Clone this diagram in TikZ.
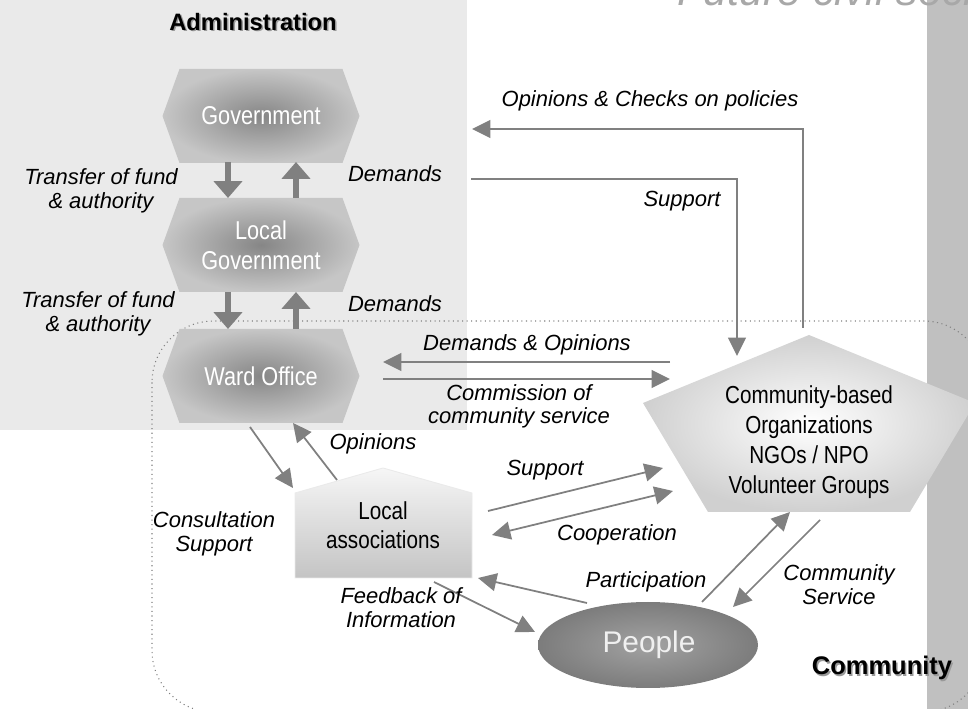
\documentclass[tikz,border=0pt]{standalone}
\usepackage{fontspec}
\setmainfont{Liberation Sans}
\newfontfamily\narrowfont[FakeStretch=0.84]{Liberation Sans}
\usetikzlibrary{arrows.meta}

\definecolor{adminbg}{HTML}{EAEAEA}
\definecolor{barfill}{HTML}{C0C0C0}
\definecolor{linkgray}{HTML}{808080}
\definecolor{hexdark}{HTML}{868686}
\definecolor{hexlight}{HTML}{C6C6C6}
\definecolor{cboedge}{HTML}{D0D0D0}
\definecolor{assoctop}{HTML}{F6F6F6}
\definecolor{assocbot}{HTML}{C4C4C4}
\definecolor{peoplein}{HTML}{A2A2A2}
\definecolor{peopleout}{HTML}{7C7C7C}
\definecolor{futuregray}{HTML}{A8A8A8}

\tikzset{every picture/.style={line width=0.75pt}}
\tikzset{
  flow/.style={draw=linkgray, line width=1pt, -{Triangle[length=10.5pt, width=10.2pt]}},
  twoway/.style={draw=linkgray, line width=1pt, {Triangle[length=10.5pt, width=10.2pt]}-{Triangle[length=10.5pt, width=10.2pt]}},
  blockarrow/.style={draw=linkgray, line width=3.4pt, -{Triangle[length=9.6pt, width=15.9pt]}},
  lbl/.style={font=\fontsize{12.5}{13.6}\selectfont\itshape, align=center, inner sep=0pt},
  hextext/.style={text=white, font=\narrowfont\fontsize{14.7}{17}\selectfont, align=center, inner sep=0pt},
  cbotext/.style={font=\narrowfont\fontsize{14}{17}\selectfont, align=center, inner sep=0pt},
  headline/.style={font=\bfseries\fontsize{13.5}{16}\selectfont, inner sep=0pt}
}

\begin{document}
\begin{tikzpicture}[x=0.02cm, y=-0.02cm]
    \useasboundingbox (0,0) rectangle (968,709);
    \clip (0,0) rectangle (968,709);
    % backgrounds
    \fill[adminbg] (0,0) rectangle (467,430);
    \fill[barfill] (927,0) rectangle (968,709);
    \draw[linkgray, line width=0.6pt, dotted, rounded corners=35] (152,321) rectangle (985,712);

    % hexagons of the administration
    \foreach \cy in {116,245,376} {
        \shade[inner color=hexdark, outer color=hexlight]
            (162.5,\cy) -- (179.5,\cy-47) -- (342.5,\cy-47) -- (359.5,\cy) -- (342.5,\cy+47) -- (179.5,\cy+47) -- cycle;
    }
    \node[hextext] (gov) at (261,116) {Government};
    \node[hextext] (lgov) at (261,245) {Local\\Government};
    \node[hextext] (ward) at (261,376) {Ward Office};

    % community-based organizations
    \shade[inner color=white, outer color=cboedge] (809,335) -- (975,403) -- (910,512) -- (708,512) -- (643,403) -- cycle;
    \node[cbotext] (cbo) at (809,442) {Community-based\\Organizations\\NGOs / NPO\\Volunteer Groups};

    % local associations
    \shade[top color=assoctop, bottom color=assocbot, draw=adminbg, line width=0.5pt]
        (383,468) -- (472,493) -- (472,578) -- (295,578) -- (295,493) -- cycle;
    \node[cbotext, font=\narrowfont\fontsize{14}{16.4}\selectfont] (assoc) at (383,525) {Local\\associations};

    % people
    \shade[inner color=peoplein, outer color=peopleout] (648,645) ellipse (110 and 43);
    \node[text={rgb,255:red,240;green,240;blue,240}, font=\fontsize{17}{20}\selectfont, inner sep=0pt] (people) at (649,645) {People};

    % end points of the connectors
    \coordinate (gov-s) at (228,162);   \coordinate (lgov-n1) at (228,198);
    \coordinate (lgov-n2) at (296,198); \coordinate (gov-s2) at (296,162);
    \coordinate (lgov-s) at (228,292);  \coordinate (ward-n1) at (228,329);
    \coordinate (ward-n2) at (296,329); \coordinate (lgov-s2) at (296,292);
    \coordinate (cbo-top) at (803,328); \coordinate (admin-in) at (472,129);
    \coordinate (lgov-out) at (471,179); \coordinate (cbo-in) at (737,356);
    \coordinate (cbo-w1) at (670,362);  \coordinate (ward-e1) at (383,362);
    \coordinate (ward-e2) at (383,379); \coordinate (cbo-w2) at (670,379);
    \coordinate (ward-s1) at (250,427); \coordinate (assoc-n1) at (293,488);
    \coordinate (assoc-n2) at (337,480); \coordinate (ward-s2) at (293,423);
    \coordinate (assoc-e1) at (488,511); \coordinate (cbo-w3) at (663,468);
    \coordinate (assoc-e2) at (492,535); \coordinate (cbo-w4) at (673,491);
    \coordinate (assoc-s) at (434,582); \coordinate (people-w) at (535,632);
    \coordinate (people-n1) at (587,603); \coordinate (assoc-e3) at (478,578);
    \coordinate (people-n2) at (702,602); \coordinate (cbo-s1) at (790,512);
    \coordinate (cbo-s2) at (820,520);  \coordinate (people-n3) at (733,607);

    % connectors
    \draw[blockarrow] (gov-s) -- (lgov-n1);
    \draw[blockarrow] (lgov-n2) -- (gov-s2);
    \draw[blockarrow] (lgov-s) -- (ward-n1);
    \draw[blockarrow] (ward-n2) -- (lgov-s2);
    \draw[flow] (cbo-top) |- (admin-in);
    \draw[flow] (lgov-out) -| (cbo-in);
    \draw[flow] (cbo-w1) -- (ward-e1);
    \draw[flow] (ward-e2) -- (cbo-w2);
    \draw[flow] (ward-s1) -- (assoc-n1);
    \draw[flow] (assoc-n2) -- (ward-s2);
    \draw[flow] (assoc-e1) -- (cbo-w3);
    \draw[twoway] (assoc-e2) -- (cbo-w4);
    \draw[flow] (assoc-s) -- (people-w);
    \draw[flow] (people-n1) -- (assoc-e3);
    \draw[flow] (people-n2) -- (cbo-s1);
    \draw[flow] (cbo-s2) -- (people-n3);

    % labels
    \node[lbl] (l-fund1) at (101,191) {Transfer of fund\\\& authority};
    \node[lbl] (l-fund2) at (98,314) {Transfer of fund\\\& authority};
    \node[lbl] (l-dem1) at (395,174) {Demands};
    \node[lbl] (l-dem2) at (395,304) {Demands};
    \node[lbl] (l-checks) at (650,101) {Opinions \& Checks on policies};
    \node[lbl] (l-sup1) at (682,201) {Support};
    \node[lbl] (l-demop) at (527,345) {Demands \& Opinions};
    \node[lbl, font=\fontsize{12.5}{13}\selectfont\itshape] (l-comm) at (519,406) {Commission of\\community service};
    \node[lbl] (l-opin) at (373,444) {Opinions};
    \node[lbl] (l-consult) at (214,534) {Consultation\\Support};
    \node[lbl] (l-sup2) at (545,470) {Support};
    \node[lbl] (l-coop) at (617,535) {Cooperation};
    \node[lbl] (l-feed) at (401,608) {Feedback of\\Information};
    \node[lbl] (l-part) at (646,582) {Participation};
    \node[lbl] (l-serv) at (839,585) {Community\\Service};

    % headings
    \node[headline, text=gray!80] (admin-sh) at (254.5,23.5) {Administration};
    \node[headline] (admin) at (253,22) {Administration};
    \node[headline, font=\bfseries\fontsize{14.5}{17}\selectfont, text=gray!80] (comm-sh) at (883.5,669.5) {Community};
    \node[headline, font=\bfseries\fontsize{14.5}{17}\selectfont] (comm) at (882,668) {Community};
    \node[anchor=base west, text=futuregray, inner sep=0pt, font=\fontsize{24.4}{28}\selectfont\itshape] (future) at (677,6) {Future civil society};
\end{tikzpicture}
\end{document}
